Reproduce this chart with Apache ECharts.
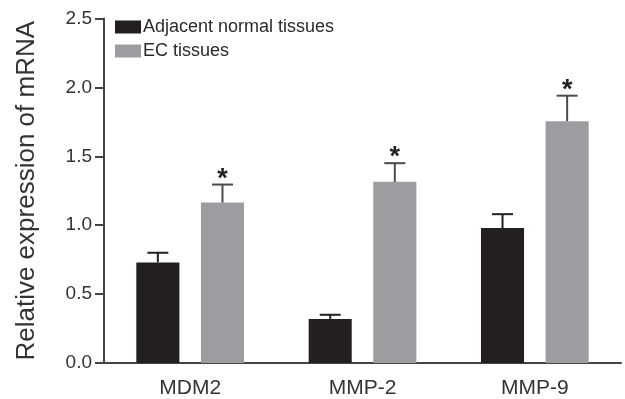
<!DOCTYPE html>
<html>
<head>
<meta charset="utf-8">
<script src="https://cdn.jsdelivr.net/npm/echarts@6/dist/echarts.min.js"></script>
<style>html,body{margin:0;padding:0;background:#fff}#c{width:625px;height:399px}</style>
</head>
<body>
<div id="c"></div>
<script>
const categories = ['MDM2', 'MMP-2', 'MMP-9'];
const seriesNames = ['Adjacent normal tissues', 'EC tissues'];
const normalValues = [0.73, 0.32, 0.98];
const normalErrors = [0.07, 0.03, 0.10];
const ecValues = [1.165, 1.315, 1.755];
const ecErrors = [0.13, 0.135, 0.185];
const ecSignificant = [true, true, true];
const yTicks = [0, 0.5, 1.0, 1.5, 2.0, 2.5];

const FONT = 'Liberation Sans, Arial, sans-serif';
const BLACK = '#231f20';
const GRAY = '#9c9da0';

function errSeries(values, errors, sig, offset, color) {
  return {
    type: 'custom',
    silent: true,
    z: 5,
    data: categories.map((c, i) => [i, values[i], errors[i], sig[i] ? 1 : 0]),
    encode: { x: 0, y: [1, 2] },
    renderItem: function (params, api) {
      const i = api.value(0), v = api.value(1), e = api.value(2), s = api.value(3);
      const band = api.size([1, 0])[0];
      const base = api.coord([i, v]);
      const top = api.coord([i, v + e]);
      const x = base[0] + offset * band;
      const half = 10.5;
      const children = [
        { type: 'line', shape: { x1: x, y1: base[1], x2: x, y2: top[1] }, style: { stroke: color, lineWidth: 2 } },
        { type: 'line', shape: { x1: x - half, y1: top[1], x2: x + half, y2: top[1] }, style: { stroke: color, lineWidth: 2 } }
      ];
      if (s) {
        children.push({ type: 'text', style: { x: x, y: top[1] + 8, text: '*', fill: '#222', font: 'bold 27px ' + FONT, textAlign: 'center', textVerticalAlign: 'bottom' } });
      }
      return { type: 'group', children: children };
    }
  };
}

const chart = echarts.init(document.getElementById('c'));
chart.setOption({
  animation: false,
  backgroundColor: '#fff',
  grid: { left: 104, right: 4, top: 18.5, bottom: 36 },
  legend: {
    data: seriesNames,
    orient: 'vertical',
    left: 110, top: 13,
    itemWidth: 26, itemHeight: 13, itemGap: 6,
    icon: 'rect',
    textStyle: { fontFamily: FONT, fontSize: 18, color: '#2a2a2a', padding: [0, 0, 0, -3] }
  },
  xAxis: {
    type: 'category',
    data: categories,
    axisLine: { lineStyle: { color: '#444', width: 2 } },
    axisTick: { alignWithLabel: true, length: 7, lineStyle: { color: '#444', width: 2 } },
    axisLabel: { fontFamily: FONT, fontSize: 21, color: '#333', margin: 15 }
  },
  yAxis: {
    type: 'value',
    min: 0, max: 2.5, interval: 0.5,
    name: 'Relative expression of mRNA',
    nameLocation: 'middle',
    nameGap: 64,
    nameTextStyle: { fontFamily: FONT, fontSize: 26, color: '#333' },
    axisLine: { show: true, lineStyle: { color: '#444', width: 2 } },
    axisTick: { show: true, length: 9, lineStyle: { color: '#444', width: 2 } },
    splitLine: { show: false },
    axisLabel: { fontFamily: FONT, fontSize: 19, color: '#333', margin: 12, formatter: v => yTicks.indexOf(v) >= 0 ? v.toFixed(1) : '' }
  },
  series: [
    { name: seriesNames[0], type: 'bar', data: normalValues, barWidth: '25%', barGap: '50%', itemStyle: { color: BLACK } },
    { name: seriesNames[1], type: 'bar', data: ecValues, barWidth: '25%', barGap: '50%', itemStyle: { color: GRAY } },
    errSeries(normalValues, normalErrors, [false, false, false], -0.1875, BLACK),
    errSeries(ecValues, ecErrors, ecSignificant, 0.1875, '#4a4a4a')
  ]
});
</script>
</body>
</html>
